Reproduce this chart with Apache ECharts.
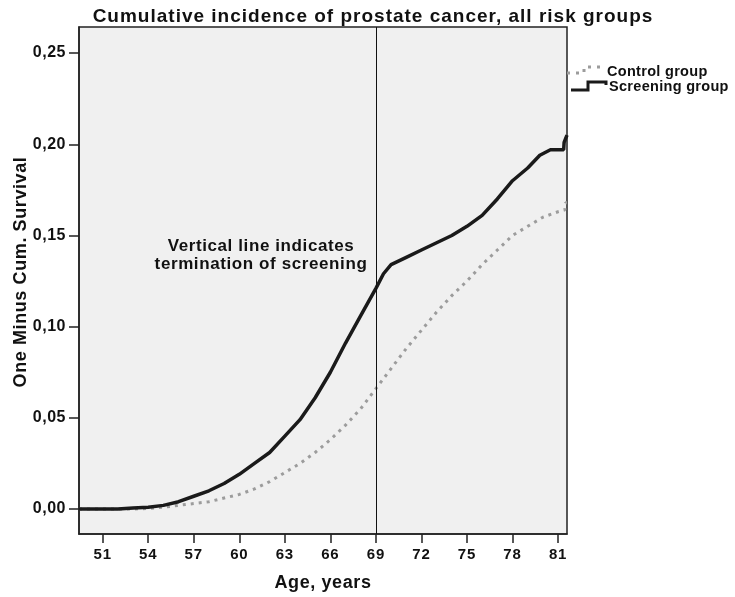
<!DOCTYPE html>
<html>
<head>
<meta charset="utf-8">
<script src="https://cdn.jsdelivr.net/npm/echarts@6/dist/echarts.min.js"></script>
<style>
  html, body { margin: 0; padding: 0; background: #fff; }
  #chart { width: 735px; height: 597px; }
</style>
</head>
<body>
<div id="chart"></div>
<script>
// Axis ticks
const ageTicks = [51, 54, 57, 60, 63, 66, 69, 72, 75, 78, 81];
const riskTicks = [0, 0.05, 0.10, 0.15, 0.20, 0.25];

// Age at which screening stopped
const terminationAge = 69;

// Screening group: one minus cumulative survival by age
const screeningAge = [49.44, 52, 53, 54, 55, 56, 57, 58, 59, 60, 61, 62, 63, 64, 65, 66, 67, 68, 69, 69.5, 70, 71, 72, 73, 74, 75, 76, 77, 77.7, 78, 79, 79.8, 80.5, 81, 81.37, 81.4, 81.5, 81.59];
const screeningRisk = [0.000, 0.000, 0.0005, 0.001, 0.002, 0.004, 0.007, 0.010, 0.014, 0.019, 0.025, 0.031, 0.040, 0.049, 0.061, 0.075, 0.091, 0.106, 0.121, 0.129, 0.134, 0.138, 0.142, 0.146, 0.150, 0.155, 0.161, 0.170, 0.177, 0.180, 0.187, 0.194, 0.197, 0.197, 0.197, 0.201, 0.201, 0.205];

// Control group: one minus cumulative survival by age
const controlAge = [49.44, 53, 54, 55, 56, 57, 58, 59, 60, 61, 62, 63, 64, 65, 66, 67, 68, 69, 70, 71, 72, 73, 74, 75, 76, 77, 78, 79, 80, 81, 81.45, 81.5, 81.59];
const controlRisk = [0.000, 0.000, 0.0003, 0.001, 0.002, 0.003, 0.004, 0.006, 0.008, 0.011, 0.015, 0.020, 0.025, 0.031, 0.038, 0.046, 0.055, 0.066, 0.077, 0.088, 0.098, 0.108, 0.117, 0.125, 0.134, 0.142, 0.150, 0.155, 0.160, 0.163, 0.164, 0.168, 0.168];

const pairs = (xs, ys) => xs.map((x, i) => [x, ys[i]]);

// Slightly tracked lettering: extra spacing (px) per font size.
const TRACKING = { 19: 1.0, 18: 0.6, 17: 0.6, 16: 0.5, 15: 0.8, 14.5: 0.3 };
const nativeFillText = CanvasRenderingContext2D.prototype.fillText;
CanvasRenderingContext2D.prototype.fillText = function () {
  const m = /(\d+(?:\.\d+)?)px/.exec(this.font || '');
  const track = m ? (TRACKING[+m[1]] || 0) : 0;
  if ('letterSpacing' in this) this.letterSpacing = track + 'px';
  const out = nativeFillText.apply(this, arguments);
  if ('letterSpacing' in this) this.letterSpacing = '0px';
  return out;
};

const FONT = '"Liberation Sans", Arial, Helvetica, sans-serif';
const INK = '#111111';

const chart = echarts.init(document.getElementById('chart'), null, { renderer: 'canvas' });

chart.setOption({
  animation: false,
  backgroundColor: '#ffffff',
  title: {
    text: 'Cumulative incidence of prostate cancer, all risk groups',
    left: 368,
    textAlign: 'center',
    top: 2,
    textStyle: { fontFamily: FONT, fontWeight: 'bold', fontSize: 19, color: INK }
  },
  grid: {
    left: 79, top: 27, width: 488, height: 507,
    show: true,
    backgroundColor: '#f0f0f0',
    borderColor: '#222',
    borderWidth: 1.5
  },
  xAxis: {
    type: 'value',
    min: 49.44,
    max: 81.59,
    name: 'Age, years',
    nameLocation: 'middle',
    nameGap: 40,
    nameMoveOverlap: false,
    nameTextStyle: { fontFamily: FONT, fontWeight: 'bold', fontSize: 18, color: INK },
    axisLine: { show: true, onZero: false, lineStyle: { color: '#222', width: 1.5 } },
    axisTick: { show: true, length: 9, customValues: ageTicks, lineStyle: { color: '#222', width: 1.5 } },
    axisLabel: {
      customValues: ageTicks,
      margin: 13,
      fontFamily: FONT, fontWeight: 'bold', fontSize: 15, color: INK
    },
    splitLine: { show: false }
  },
  yAxis: {
    type: 'value',
    min: -0.0137,
    max: 0.2643,
    name: 'One Minus Cum. Survival',
    nameLocation: 'middle',
    nameGap: 49,
    nameMoveOverlap: false,
    nameRotate: 90,
    nameTextStyle: { fontFamily: FONT, fontWeight: 'bold', fontSize: 18, color: INK, padding: [0, 0, 0, 17] },
    axisLine: { show: true, onZero: false, lineStyle: { color: '#222', width: 1.5 } },
    axisTick: { show: true, length: 10, customValues: riskTicks, lineStyle: { color: '#222', width: 1.5 } },
    axisLabel: {
      customValues: riskTicks,
      margin: 13,
      fontFamily: FONT, fontWeight: 'bold', fontSize: 16, color: INK,
      formatter: v => v.toFixed(2).replace('.', ',')
    },
    splitLine: { show: false }
  },
  series: [
    {
      name: 'Control group',
      type: 'line',
      data: pairs(controlAge, controlRisk),
      showSymbol: false,
      clip: false,
      lineStyle: { color: '#9c9c9c', width: 3, type: [3, 5] },
      z: 2
    },
    {
      name: 'Screening group',
      type: 'line',
      data: pairs(screeningAge, screeningRisk),
      showSymbol: false,
      clip: false,
      lineStyle: { color: '#1a1a1a', width: 3.5 },
      z: 3,
      markLine: {
        silent: true,
        symbol: 'none',
        label: { show: false },
        lineStyle: { color: INK, width: 1, type: 'solid' },
        data: [{ xAxis: terminationAge }]
      }
    }
  ],
  graphic: [
    {
      type: 'text',
      style: {
        x: 261, y: 237,
        text: 'Vertical line indicates\ntermination of screening',
        align: 'center',
        verticalAlign: 'top',
        lineHeight: 18,
        font: 'bold 17px ' + FONT,
        fill: INK
      }
    },
    // legend: control group (dotted step)
    {
      type: 'polyline',
      shape: { points: [[567, 73], [584, 73], [584, 67], [601, 67]] },
      style: { stroke: '#9c9c9c', lineWidth: 3, lineDash: [3, 6], fill: null }
    },
    {
      type: 'text',
      style: { x: 607, y: 72, text: 'Control group', verticalAlign: 'middle', font: 'bold 14.5px ' + FONT, fill: INK }
    },
    // legend: screening group (solid step)
    {
      type: 'polyline',
      shape: { points: [[571, 90], [588, 90], [588, 82], [606, 82], [606, 85]] },
      style: { stroke: '#1a1a1a', lineWidth: 3, fill: null }
    },
    {
      type: 'text',
      style: { x: 609, y: 87, text: 'Screening group', verticalAlign: 'middle', font: 'bold 14.5px ' + FONT, fill: INK }
    }
  ]
});
</script>
</body>
</html>
